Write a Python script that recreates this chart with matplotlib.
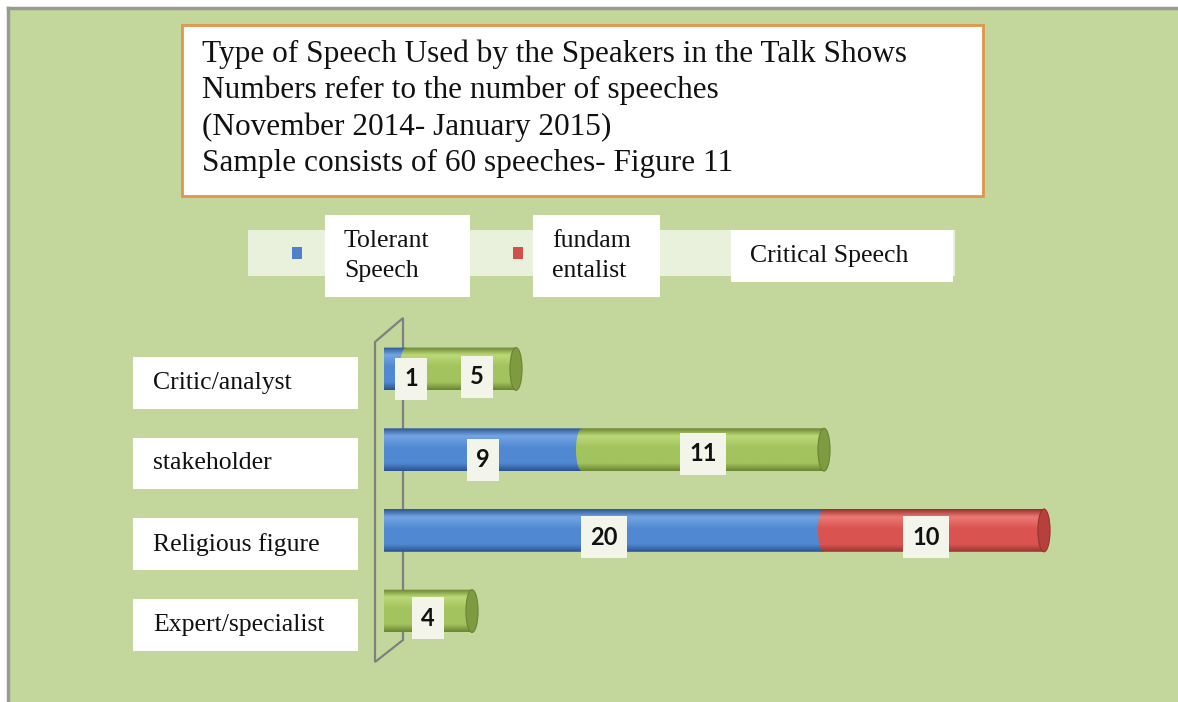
import numpy as np
import matplotlib
matplotlib.use("Agg")
import matplotlib.pyplot as plt
from matplotlib.patches import Rectangle, Ellipse, Polygon, PathPatch
from matplotlib.path import Path
from matplotlib.colors import to_rgb
import matplotlib.transforms as mtransforms

# ---------------- data ----------------
categories = ["Critic/analyst", "stakeholder", "Religious figure", "Expert/specialist"]
series_names = ["Tolerant\nSpeech", "fundam\nentalist", "Critical Speech"]
tolerant = [1, 9, 20, 0]
fundamentalist = [0, 0, 10, 0]
critical = [5, 11, 0, 4]
title_lines = ["Type of Speech Used by the Speakers in the Talk Shows",
               "Numbers refer to the number of speeches",
               "(November 2014- January 2015)",
               "Sample consists of 60 speeches- Figure 11"]

# ---------------- styling ----------------
W, H = 1178, 702
fig = plt.figure(figsize=(W / 100, H / 100), dpi=100)
fig.patch.set_facecolor("white")

def fx(x):
    return x / W

def fy(y):
    return 1 - y / H

def frect(x0, y0, x1, y1, **kw):
    r = Rectangle((fx(x0), fy(y1)), fx(x1) - fx(x0), fy(y0) - fy(y1),
                  transform=fig.transFigure, **kw)
    fig.patches.append(r)
    return r

serif = ["Liberation Serif", "DejaVu Serif"]
BG = "#c3d69b"

# background
frect(8, 8, 1178, 702, facecolor=BG, edgecolor="none", zorder=-5)
fig.lines.append(plt.Line2D([fx(8), fx(8)], [fy(8), fy(702)], transform=fig.transFigure,
                            color="#9a9a90", lw=2.5, zorder=-4))
fig.lines.append(plt.Line2D([fx(8), fx(1178)], [fy(8), fy(8)], transform=fig.transFigure,
                            color="#9a9a90", lw=2.5, zorder=-4))

# title box
frect(182, 25, 983, 196, facecolor="white", edgecolor="#e4944a", lw=2, zorder=2)
for i, line in enumerate(title_lines):
    fig.text(fx(202), fy(54 + i * 36.5), line, family=serif, fontsize=22.5,
             ha="left", va="center", color="#111111", zorder=3)

# legend strip
colors_mid = ["#4f81c9", "#d0504c", "#9bbb59"]
frect(248, 230, 955, 276, facecolor="#e9f0dc", edgecolor="none", zorder=2)
legend_marker_x = [292, 513, 741]
for cx, c in zip(legend_marker_x, colors_mid):
    frect(cx, 247, cx + 10, 259, facecolor=c, edgecolor="none", zorder=3)
legend_boxes = [(325, 215, 470, 297), (533, 215, 660, 297), (731, 230, 953, 282)]
for (x0, y0, x1, y1), name in zip(legend_boxes, series_names):
    frect(x0, y0, x1, y1, facecolor="white", edgecolor="none", zorder=3)
    fig.text(fx(x0 + 19), fy((y0 + y1) / 2), name, family=serif, fontsize=18.5,
             ha="left", va="center", color="#111111", linespacing=1.5, zorder=4)

# back wall of 3D plot
wall = Polygon([(fx(375), fy(342)), (fx(403), fy(318)), (fx(403), fy(640)), (fx(375), fy(662))],
               closed=True, transform=fig.transFigure, facecolor="none",
               edgecolor="#808080", lw=1.6, zorder=-1)
fig.patches.append(wall)

# main axes: x=0 at px 384, 22 px/unit ; rows 80.7 px apart starting at px 369
ax_left_px, ax_right_px = 384, 1100
ax_top_px, ax_bot_px = 320, 660
ax = fig.add_axes([fx(ax_left_px), fy(ax_bot_px), fx(ax_right_px) - fx(ax_left_px),
                   fy(ax_top_px) - fy(ax_bot_px)])
ax.set_facecolor("none")
ax.patch.set_visible(False)
ppu = 22.0
row = 80.7
ax.set_xlim(0, (ax_right_px - ax_left_px) / ppu)
ax.set_ylim((ax_bot_px - 369) / row, (ax_top_px - 369) / row)
ax.axis("off")

bar_h = 0.53
cap_w = 0.55

palettes = {
    0: ("#2c5895", "#74a5e3", "#5089d2", "#2a5390", "#3a69ad"),
    1: ("#96322f", "#ee7a74", "#d95450", "#9c3532", "#b8403c"),
    2: ("#6a8532", "#bcd977", "#a2c35e", "#6b8733", "#7e9b41"),
}

def gradient_img(pal):
    top_edge, light, mid, dark, _ = pal
    stops = [0.0, 0.18, 0.45, 0.82, 1.0]
    cols = [to_rgb(top_edge), to_rgb(light), to_rgb(mid), to_rgb(mid), to_rgb(dark)]
    t = np.linspace(0, 1, 64)
    arr = np.zeros((64, 1, 3))
    for k in range(3):
        arr[:, 0, k] = np.interp(t, stops, [c[k] for c in cols])
    return arr

def body_path(l, r, y, h, w):
    th = np.linspace(np.pi / 2, 3 * np.pi / 2, 30)
    left = np.column_stack([l + (w / 2) * np.cos(th), y - (h / 2) * np.sin(th)])
    verts = list(left) + [(r, y + h / 2), (r, y - h / 2), left[0]]
    codes = [Path.MOVETO] + [Path.LINETO] * (len(verts) - 2) + [Path.CLOSEPOLY]
    return Path(verts, codes)

series = [tolerant, fundamentalist, critical]
label_offsets = {(0, 0): (16, -10), (0, 2): (16, -8), (1, 0): (0, -10), (1, 2): (0, -4),
                 (2, 0): (0, -7), (2, 1): (-8, -7), (3, 2): (0, -7)}
for i, cat in enumerate(categories):
    left = 0.0
    segs = []
    for s, vals in enumerate(series):
        v = vals[i]
        if v > 0:
            segs.append((s, left, left + v))
            left += v
    for k, (s, l, r) in enumerate(segs):
        pal = palettes[s]
        p = PathPatch(body_path(l, r, i, bar_h, cap_w), facecolor="none", edgecolor="none",
                      transform=ax.transData)
        ax.add_patch(p)
        im = ax.imshow(gradient_img(pal), extent=[l - cap_w / 2, r, i + bar_h / 2, i - bar_h / 2],
                       aspect="auto", interpolation="bilinear", zorder=2 + k * 0.1)
        im.set_clip_path(p)
    # end cap
    s_last, l_last, r_last = segs[-1]
    ax.add_patch(Ellipse((r_last, i), cap_w, bar_h, facecolor=palettes[s_last][4],
                         edgecolor=palettes[s_last][0], lw=0.8, zorder=3))
    # labels
    for (s, l, r) in segs:
        dx, dy = label_offsets.get((i, s), (0, -7))
        ax.annotate(str(series[s][i]), xy=((l + r) / 2, i), xytext=(dx, dy),
                    textcoords="offset pixels", ha="center", va="center",
                    family=["Lato", "DejaVu Sans"], fontweight="bold", fontsize=17,
                    color="#111111", zorder=6,
                    bbox=dict(boxstyle="square,pad=0.4", facecolor="#f4f5ea", edgecolor="none"))

# category label boxes (aligned to rows via blended transform)
trans = mtransforms.blended_transform_factory(fig.transFigure, ax.transData)
for i, cat in enumerate(categories):
    yc = i + 0.17
    r = Rectangle((fx(133), yc - 0.32), fx(358) - fx(133), 0.64, transform=trans,
                  facecolor="white", edgecolor="none", zorder=2)
    fig.patches.append(r)
    t = fig.text(fx(153), 0, cat, transform=trans, family=serif, fontsize=18.5,
                 ha="left", va="center", color="#111111", zorder=3)
    t.set_y(yc)

fig.savefig("out.png", dpi=100, facecolor=fig.get_facecolor())
